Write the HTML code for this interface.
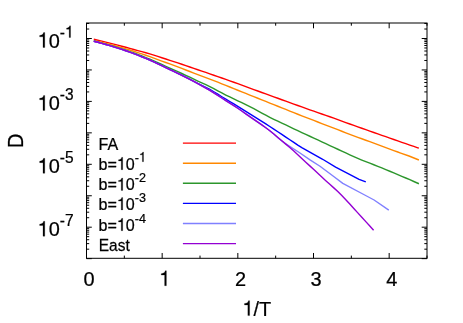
<!DOCTYPE html><html><head><meta charset="utf-8"><style>html,body{margin:0;padding:0;background:#fff}svg{display:block}text{font-family:"Liberation Sans",sans-serif;fill:#000;stroke:#000;stroke-width:0.25px}</style></head><body>
<svg width="463" height="323" viewBox="0 0 463 323">
<rect width="463" height="323" fill="#fff"/>
<polyline points="93.8,39.30 97.8,40.20 101.8,41.14 105.8,42.09 109.8,43.08 113.8,44.10 117.8,45.15 121.8,46.22 125.8,47.30 129.8,48.39 133.8,49.48 137.8,50.58 141.8,51.68 145.8,52.79 149.8,53.92 153.8,55.16 157.8,56.43 161.8,57.71 165.8,59.01 169.8,60.34 173.8,61.63 177.8,62.95 181.8,64.28 185.8,65.62 189.8,66.99 193.8,68.37 197.8,69.74 201.8,71.09 205.8,72.46 209.8,73.86 213.8,75.25 217.8,76.61 221.8,78.00 225.8,79.40 229.8,80.81 233.8,82.22 237.8,83.63 241.8,85.08 245.8,86.59 249.8,88.07 253.8,89.56 257.8,91.02 261.8,92.48 265.8,93.93 269.8,95.38 273.8,96.83 277.8,98.28 281.8,99.72 285.8,101.16 289.8,102.60 293.8,104.05 297.8,105.48 301.8,106.91 305.8,108.34 309.8,109.79 313.8,111.18 317.8,112.57 321.8,113.97 325.8,115.37 329.8,116.77 333.8,118.18 337.8,119.62 341.8,121.09 345.8,122.54 349.8,123.98 353.8,125.40 357.8,126.83 361.8,128.25 365.8,129.66 369.8,131.07 373.8,132.48 377.8,133.88 381.8,135.29 385.8,136.70 389.8,138.11 393.8,139.51 397.8,140.91 401.8,142.30 405.8,143.69 409.8,145.07 413.8,146.45 417.8,147.82 418.9,148.20" fill="none" stroke="#ff0000" stroke-width="1.4" stroke-linejoin="round"/>
<polyline points="93.8,40.50 97.8,41.46 101.8,42.45 105.8,43.45 109.8,44.48 113.8,45.51 117.8,46.57 121.8,47.65 125.8,48.80 129.8,50.00 133.8,51.26 137.8,52.56 141.8,53.90 145.8,55.26 149.8,56.65 153.8,58.11 157.8,59.58 161.8,61.05 165.8,62.51 169.8,63.96 173.8,65.46 177.8,66.96 181.8,68.47 185.8,69.99 189.8,71.52 193.8,73.07 197.8,74.59 201.8,76.06 205.8,77.54 209.8,79.07 213.8,80.62 217.8,82.21 221.8,83.80 225.8,85.40 229.8,87.00 233.8,88.61 237.8,90.23 241.8,91.85 245.8,93.46 249.8,95.07 253.8,96.66 257.8,98.25 261.8,99.84 265.8,101.43 269.8,103.03 273.8,104.63 277.8,106.23 281.8,107.84 285.8,109.44 289.8,111.05 293.8,112.65 297.8,114.23 301.8,115.79 305.8,117.33 309.8,118.88 313.8,120.43 317.8,121.98 321.8,123.53 325.8,125.08 329.8,126.63 333.8,128.17 337.8,129.71 341.8,131.25 345.8,132.78 349.8,134.30 353.8,135.80 357.8,137.29 361.8,138.77 365.8,140.24 369.8,141.71 373.8,143.20 377.8,144.68 381.8,146.16 385.8,147.63 389.8,149.09 393.8,150.55 397.8,152.00 400.0,152.80 409.0,156.00 418.9,160.00" fill="none" stroke="#ff8800" stroke-width="1.4" stroke-linejoin="round"/>
<polyline points="93.8,41.00 97.8,42.01 101.8,43.07 105.8,44.17 109.8,45.30 113.8,46.47 117.8,47.68 121.8,48.93 125.8,50.24 129.8,51.60 133.8,53.03 137.8,54.50 141.8,56.00 145.8,57.54 149.8,59.10 153.8,60.86 157.8,62.66 161.8,64.47 165.8,66.31 169.8,68.16 173.8,69.92 177.8,71.69 181.8,73.50 185.8,75.33 189.8,77.20 193.8,79.09 197.8,81.02 201.8,82.85 205.8,84.71 209.8,86.65 213.8,88.71 217.8,90.84 221.8,92.96 225.8,95.02 229.8,96.99 233.8,98.91 237.8,100.80 241.8,102.69 245.8,104.60 249.8,106.61 253.8,108.71 257.8,110.85 261.8,113.02 265.8,115.17 269.8,117.27 273.8,119.31 277.8,121.24 281.8,123.07 285.8,124.91 289.8,126.84 293.8,128.76 297.8,130.67 301.8,132.55 305.8,134.41 309.8,136.26 313.8,138.11 317.8,139.96 321.8,141.81 325.8,143.65 329.8,145.51 333.8,147.37 337.8,149.25 341.8,151.13 345.8,152.99 349.8,154.81 353.8,156.60 357.8,158.35 361.8,160.04 365.8,161.66 369.8,163.21 373.8,164.75 377.8,166.32 381.8,167.93 385.8,169.57 389.8,171.23 393.8,172.90 397.8,174.58 401.8,176.28 405.8,178.00 409.8,179.73 413.8,181.49 417.8,183.26 418.9,183.75" fill="none" stroke="#2c962c" stroke-width="1.4" stroke-linejoin="round"/>
<polyline points="93.8,41.30 97.8,42.30 101.8,43.35 105.8,44.46 109.8,45.61 113.8,46.81 117.8,48.07 121.8,49.39 125.8,50.76 129.8,52.18 133.8,53.67 137.8,55.20 141.8,56.77 145.8,58.37 149.8,60.00 153.8,61.85 157.8,63.74 161.8,65.65 165.8,67.56 169.8,69.49 173.8,71.37 177.8,73.26 181.8,75.19 185.8,77.16 189.8,79.18 193.8,81.26 197.8,83.40 201.8,85.32 205.8,87.30 209.8,89.43 213.8,91.75 217.8,94.18 221.8,96.72 225.8,99.20 229.8,101.60 233.8,103.97 237.8,106.39 241.8,108.89 245.8,111.40 249.8,113.91 253.8,116.42 257.8,118.93 261.8,121.43 265.8,123.93 269.8,126.47 273.8,129.07 277.8,131.71 281.8,134.38 285.8,137.07 289.8,139.73 293.8,142.42 297.8,145.10 301.8,147.59 305.8,149.92 309.8,152.19 313.8,154.41 317.8,156.58 321.8,158.79 323.9,160.00 335.6,167.20 359.1,179.30 365.8,181.90" fill="none" stroke="#0000ff" stroke-width="1.4" stroke-linejoin="round"/>
<polyline points="93.8,41.30 97.8,42.30 101.8,43.35 105.8,44.46 109.8,45.61 113.8,46.81 117.8,48.07 121.8,49.39 125.8,50.76 129.8,52.19 133.8,53.68 137.8,55.22 141.8,56.79 145.8,58.40 149.8,60.05 153.8,61.91 157.8,63.81 161.8,65.73 165.8,67.66 169.8,69.60 173.8,71.48 177.8,73.37 181.8,75.29 185.8,77.27 189.8,79.30 193.8,81.39 197.8,83.57 201.8,85.77 205.8,88.07 209.8,90.37 213.8,92.81 217.8,95.38 221.8,98.01 225.8,100.58 229.8,103.07 233.8,105.56 237.8,108.25 241.8,111.03 245.8,113.84 249.8,116.62 253.8,119.38 257.8,122.15 261.8,124.94 265.8,127.78 269.8,130.75 273.8,134.00 277.8,137.48 281.8,140.87 284.3,142.80 300.0,153.00 310.0,159.80 320.0,166.25 333.4,176.30 342.8,183.40 364.7,195.00 374.1,200.00 388.8,210.10" fill="none" stroke="#8080ff" stroke-width="1.4" stroke-linejoin="round"/>
<polyline points="93.8,41.30 97.8,42.30 101.8,43.35 105.8,44.46 109.8,45.61 113.8,46.81 117.8,48.07 121.8,49.39 125.8,50.76 129.8,52.19 133.8,53.68 137.8,55.22 141.8,56.79 145.8,58.40 149.8,60.05 153.8,61.91 157.8,63.81 161.8,65.73 165.8,67.66 169.8,69.60 173.8,71.48 177.8,73.37 181.8,75.29 185.8,77.27 189.8,79.30 193.8,81.39 197.8,83.57 201.8,85.77 205.8,88.07 209.8,90.37 213.8,92.81 217.8,95.38 221.8,98.01 225.8,100.58 229.8,103.07 233.8,105.56 237.8,108.25 241.8,111.03 245.8,113.84 249.8,116.62 253.8,119.37 257.8,122.13 261.8,124.91 265.8,127.76 269.8,130.75 273.8,133.99 277.8,137.42 281.8,140.82 285.8,144.15 289.8,147.53 293.8,151.06 297.8,154.70 301.8,158.41 305.8,162.15 309.8,165.88 313.8,169.61 317.8,173.35 321.8,177.06 325.8,180.67 329.8,184.25 333.8,187.86 337.8,191.59 341.8,195.50 345.8,199.68 349.8,204.05 353.8,208.49 357.8,212.88 361.8,217.25 365.8,221.63 369.8,226.02 373.6,230.20" fill="none" stroke="#9400d3" stroke-width="1.4" stroke-linejoin="round"/>
<path d="M86.50,258.3v-5.3M86.50,23.0v5.3M124.33,258.3v-2.7M124.33,23.0v2.7M162.17,258.3v-5.3M162.17,23.0v5.3M200.00,258.3v-2.7M200.00,23.0v2.7M237.83,258.3v-5.3M237.83,23.0v5.3M275.67,258.3v-2.7M275.67,23.0v2.7M313.50,258.3v-5.3M313.50,23.0v5.3M351.33,258.3v-2.7M351.33,23.0v2.7M389.17,258.3v-5.3M389.17,23.0v5.3M427.00,258.3v-2.7M427.00,23.0v2.7M86.5,258.65h5.3M427.0,258.65h-5.3M86.5,249.18h2.7M427.0,249.18h-2.7M86.5,243.64h2.7M427.0,243.64h-2.7M86.5,239.72h2.7M427.0,239.72h-2.7M86.5,236.67h2.7M427.0,236.67h-2.7M86.5,234.18h2.7M427.0,234.18h-2.7M86.5,232.07h2.7M427.0,232.07h-2.7M86.5,230.25h2.7M427.0,230.25h-2.7M86.5,228.64h2.7M427.0,228.64h-2.7M86.5,227.20h5.3M427.0,227.20h-5.3M86.5,217.73h2.7M427.0,217.73h-2.7M86.5,212.19h2.7M427.0,212.19h-2.7M86.5,208.27h2.7M427.0,208.27h-2.7M86.5,205.22h2.7M427.0,205.22h-2.7M86.5,202.73h2.7M427.0,202.73h-2.7M86.5,200.62h2.7M427.0,200.62h-2.7M86.5,198.80h2.7M427.0,198.80h-2.7M86.5,197.19h2.7M427.0,197.19h-2.7M86.5,195.75h5.3M427.0,195.75h-5.3M86.5,186.28h2.7M427.0,186.28h-2.7M86.5,180.74h2.7M427.0,180.74h-2.7M86.5,176.82h2.7M427.0,176.82h-2.7M86.5,173.77h2.7M427.0,173.77h-2.7M86.5,171.28h2.7M427.0,171.28h-2.7M86.5,169.17h2.7M427.0,169.17h-2.7M86.5,167.35h2.7M427.0,167.35h-2.7M86.5,165.74h2.7M427.0,165.74h-2.7M86.5,164.30h5.3M427.0,164.30h-5.3M86.5,154.83h2.7M427.0,154.83h-2.7M86.5,149.29h2.7M427.0,149.29h-2.7M86.5,145.37h2.7M427.0,145.37h-2.7M86.5,142.32h2.7M427.0,142.32h-2.7M86.5,139.83h2.7M427.0,139.83h-2.7M86.5,137.72h2.7M427.0,137.72h-2.7M86.5,135.90h2.7M427.0,135.90h-2.7M86.5,134.29h2.7M427.0,134.29h-2.7M86.5,132.85h5.3M427.0,132.85h-5.3M86.5,123.38h2.7M427.0,123.38h-2.7M86.5,117.84h2.7M427.0,117.84h-2.7M86.5,113.92h2.7M427.0,113.92h-2.7M86.5,110.87h2.7M427.0,110.87h-2.7M86.5,108.38h2.7M427.0,108.38h-2.7M86.5,106.27h2.7M427.0,106.27h-2.7M86.5,104.45h2.7M427.0,104.45h-2.7M86.5,102.84h2.7M427.0,102.84h-2.7M86.5,101.40h5.3M427.0,101.40h-5.3M86.5,91.93h2.7M427.0,91.93h-2.7M86.5,86.39h2.7M427.0,86.39h-2.7M86.5,82.47h2.7M427.0,82.47h-2.7M86.5,79.42h2.7M427.0,79.42h-2.7M86.5,76.93h2.7M427.0,76.93h-2.7M86.5,74.82h2.7M427.0,74.82h-2.7M86.5,73.00h2.7M427.0,73.00h-2.7M86.5,71.39h2.7M427.0,71.39h-2.7M86.5,69.95h5.3M427.0,69.95h-5.3M86.5,60.48h2.7M427.0,60.48h-2.7M86.5,54.94h2.7M427.0,54.94h-2.7M86.5,51.02h2.7M427.0,51.02h-2.7M86.5,47.97h2.7M427.0,47.97h-2.7M86.5,45.48h2.7M427.0,45.48h-2.7M86.5,43.37h2.7M427.0,43.37h-2.7M86.5,41.55h2.7M427.0,41.55h-2.7M86.5,39.94h2.7M427.0,39.94h-2.7M86.5,38.50h5.3M427.0,38.50h-5.3M86.5,29.03h2.7M427.0,29.03h-2.7M86.5,23.49h2.7M427.0,23.49h-2.7" stroke="#000" stroke-width="1" fill="none"/>
<rect x="86.5" y="23.0" width="340.50" height="235.30" fill="none" stroke="#000" stroke-width="1"/>
<g style="filter:grayscale(1)">
<g transform="translate(89.10,285.70) scale(0.946,1)">
<text x="-5.87" y="0.00" font-size="21.1">0</text>
</g>
<g transform="translate(164.77,285.70) scale(0.946,1)">
<path transform="translate(-5.87,0.00) scale(21.1,-21.1)" d="M0.359,0V0.709H0.300C0.280,0.630 0.235,0.582 0.101,0.570V0.505H0.271V0Z" fill="#000" stroke="#000" stroke-width="0.0118"/>
</g>
<g transform="translate(240.43,285.70) scale(0.946,1)">
<text x="-5.87" y="0.00" font-size="21.1">2</text>
</g>
<g transform="translate(316.10,285.70) scale(0.946,1)">
<text x="-5.87" y="0.00" font-size="21.1">3</text>
</g>
<g transform="translate(391.77,285.70) scale(0.946,1)">
<text x="-5.87" y="0.00" font-size="21.1">4</text>
</g>
<g transform="translate(37.60,47.50) scale(0.946,1)">
<path transform="translate(0.00,0.00) scale(21.1,-21.1)" d="M0.359,0V0.709H0.300C0.280,0.630 0.235,0.582 0.101,0.570V0.505H0.271V0Z" fill="#000" stroke="#000" stroke-width="0.0118"/>
<text x="11.73" y="0.00" font-size="21.1">0</text>
<text x="23.47" y="-10.00" font-size="16.4">-</text>
<path transform="translate(28.93,-10.00) scale(16.4,-16.4)" d="M0.359,0V0.709H0.300C0.280,0.630 0.235,0.582 0.101,0.570V0.505H0.271V0Z" fill="#000" stroke="#000" stroke-width="0.0152"/>
</g>
<g transform="translate(37.60,110.40) scale(0.946,1)">
<path transform="translate(0.00,0.00) scale(21.1,-21.1)" d="M0.359,0V0.709H0.300C0.280,0.630 0.235,0.582 0.101,0.570V0.505H0.271V0Z" fill="#000" stroke="#000" stroke-width="0.0118"/>
<text x="11.73" y="0.00" font-size="21.1">0</text>
<text x="23.47" y="-10.00" font-size="16.4">-3</text>
</g>
<g transform="translate(37.60,173.30) scale(0.946,1)">
<path transform="translate(0.00,0.00) scale(21.1,-21.1)" d="M0.359,0V0.709H0.300C0.280,0.630 0.235,0.582 0.101,0.570V0.505H0.271V0Z" fill="#000" stroke="#000" stroke-width="0.0118"/>
<text x="11.73" y="0.00" font-size="21.1">0</text>
<text x="23.47" y="-10.00" font-size="16.4">-5</text>
</g>
<g transform="translate(37.60,236.20) scale(0.946,1)">
<path transform="translate(0.00,0.00) scale(21.1,-21.1)" d="M0.359,0V0.709H0.300C0.280,0.630 0.235,0.582 0.101,0.570V0.505H0.271V0Z" fill="#000" stroke="#000" stroke-width="0.0118"/>
<text x="11.73" y="0.00" font-size="21.1">0</text>
<text x="23.47" y="-10.00" font-size="16.4">-7</text>
</g>
<g transform="translate(242.45,315.60) scale(0.946,1)">
<path transform="translate(0.00,0.00) scale(21.1,-21.1)" d="M0.359,0V0.709H0.300C0.280,0.630 0.235,0.582 0.101,0.570V0.505H0.271V0Z" fill="#000" stroke="#000" stroke-width="0.0118"/>
<text x="11.73" y="0.00" font-size="21.1">/T</text>
</g>
<g transform="translate(22.90,148.10) rotate(-90) scale(0.946,1.055)">
<text x="0.00" y="0.00" font-size="21.1">D</text>
</g>
<g transform="translate(98.55,150.30) scale(0.925,1)">
<text x="0.00" y="0.00" font-size="17.4">FA</text>
</g>
<g transform="translate(98.55,169.70) scale(0.925,1)">
<text x="0.00" y="0.00" font-size="17.4">b=</text>
<path transform="translate(19.84,0.00) scale(17.4,-17.4)" d="M0.359,0V0.709H0.300C0.280,0.630 0.235,0.582 0.101,0.570V0.505H0.271V0Z" fill="#000" stroke="#000" stroke-width="0.0144"/>
<text x="29.52" y="0.00" font-size="17.4">0</text>
<text x="39.19" y="-8.00" font-size="13.6">-</text>
<path transform="translate(43.72,-8.00) scale(13.6,-13.6)" d="M0.359,0V0.709H0.300C0.280,0.630 0.235,0.582 0.101,0.570V0.505H0.271V0Z" fill="#000" stroke="#000" stroke-width="0.0184"/>
</g>
<g transform="translate(98.55,190.40) scale(0.925,1)">
<text x="0.00" y="0.00" font-size="17.4">b=</text>
<path transform="translate(19.84,0.00) scale(17.4,-17.4)" d="M0.359,0V0.709H0.300C0.280,0.630 0.235,0.582 0.101,0.570V0.505H0.271V0Z" fill="#000" stroke="#000" stroke-width="0.0144"/>
<text x="29.52" y="0.00" font-size="17.4">0</text>
<text x="39.19" y="-8.00" font-size="13.6">-2</text>
</g>
<g transform="translate(98.55,209.90) scale(0.925,1)">
<text x="0.00" y="0.00" font-size="17.4">b=</text>
<path transform="translate(19.84,0.00) scale(17.4,-17.4)" d="M0.359,0V0.709H0.300C0.280,0.630 0.235,0.582 0.101,0.570V0.505H0.271V0Z" fill="#000" stroke="#000" stroke-width="0.0144"/>
<text x="29.52" y="0.00" font-size="17.4">0</text>
<text x="39.19" y="-8.00" font-size="13.6">-3</text>
</g>
<g transform="translate(98.55,230.70) scale(0.925,1)">
<text x="0.00" y="0.00" font-size="17.4">b=</text>
<path transform="translate(19.84,0.00) scale(17.4,-17.4)" d="M0.359,0V0.709H0.300C0.280,0.630 0.235,0.582 0.101,0.570V0.505H0.271V0Z" fill="#000" stroke="#000" stroke-width="0.0144"/>
<text x="29.52" y="0.00" font-size="17.4">0</text>
<text x="39.19" y="-8.00" font-size="13.6">-4</text>
</g>
<g transform="translate(98.80,250.80) scale(0.888,1)">
<text x="0.00" y="0.00" font-size="17.4">East</text>
</g>
</g>
<line x1="182.9" x2="236" y1="143.1" y2="143.1" stroke="#ff0000" stroke-width="1.4"/>
<line x1="182.9" x2="236" y1="163.2" y2="163.2" stroke="#ff8800" stroke-width="1.4"/>
<line x1="182.9" x2="236" y1="183.3" y2="183.3" stroke="#2c962c" stroke-width="1.4"/>
<line x1="182.9" x2="236" y1="203.4" y2="203.4" stroke="#0000ff" stroke-width="1.4"/>
<line x1="182.9" x2="236" y1="223.5" y2="223.5" stroke="#8080ff" stroke-width="1.4"/>
<line x1="182.9" x2="236" y1="243.6" y2="243.6" stroke="#9400d3" stroke-width="1.4"/>
</svg></body></html>
